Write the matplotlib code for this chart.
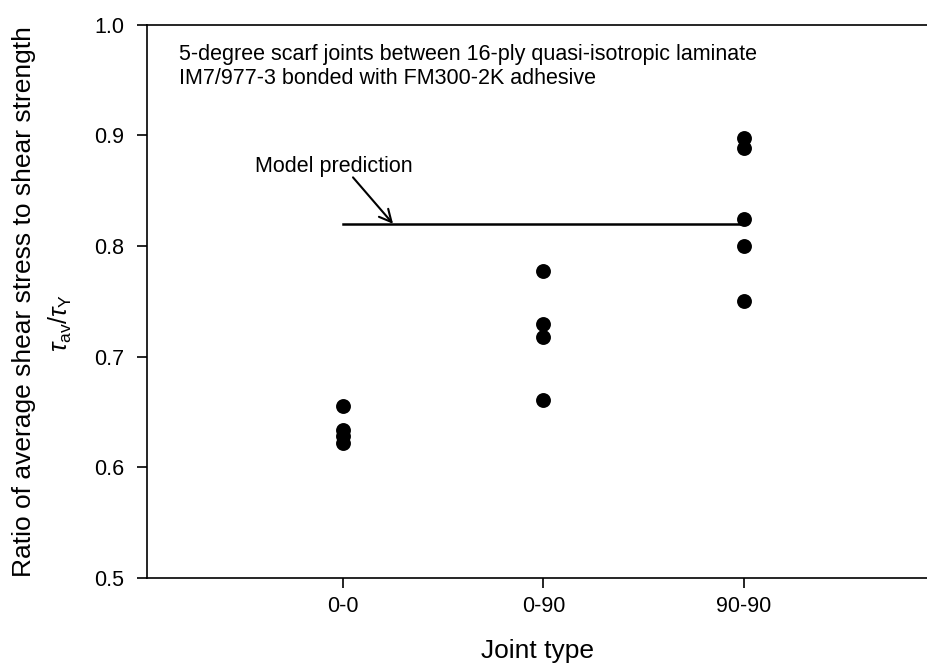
import matplotlib
matplotlib.use("Agg")
import matplotlib.pyplot as plt

plt.rcParams['font.family'] = ['Liberation Sans', 'DejaVu Sans']
plt.rcParams['mathtext.fontset'] = 'custom'
plt.rcParams['mathtext.rm'] = 'Liberation Sans'
plt.rcParams['mathtext.it'] = 'Liberation Sans:italic'

# Joint types and measured ratios tau_av / tau_Y
joint_types = ["0-0", "0-90", "90-90"]
ratio_00 = [0.655, 0.634, 0.628, 0.622]
ratio_090 = [0.777, 0.729, 0.718, 0.661]
ratio_9090 = [0.898, 0.889, 0.824, 0.800, 0.750]
model_prediction = 0.82

fig = plt.figure(figsize=(9.28, 6.68), dpi=100)
ax = fig.add_axes([0.158, 0.135, 0.842, 0.828])

groups = [ratio_00, ratio_090, ratio_9090]
for i, vals in enumerate(groups):
    xs = [i + 1] * len(vals)
    ax.scatter(xs, vals, s=115, color="black", zorder=3, linewidths=0)

# Model prediction line across the joint types
ax.plot([1, 3], [model_prediction, model_prediction], color="black", lw=1.8)
ax.text(0.56, 0.872, "Model prediction", fontsize=15.5, va="center", ha="left")
ax.annotate("", xy=(1.25, model_prediction), xytext=(1.05, 0.862),
            arrowprops=dict(arrowstyle="->", color="black", lw=1.5,
                            shrinkA=0, shrinkB=0, mutation_scale=22))

ax.text(0.042, 0.966,
        "5-degree scarf joints between 16-ply quasi-isotropic laminate\n"
        "IM7/977-3 bonded with FM300-2K adhesive",
        transform=ax.transAxes, fontsize=15.5, va="top", ha="left",
        linespacing=1.2)

ax.set_xlim(0.02, 3.92)
ax.set_ylim(0.5, 1.0)
ax.set_xticks([1, 2, 3])
ax.set_xticklabels(joint_types)
ax.set_yticks([0.5, 0.6, 0.7, 0.8, 0.9, 1.0])
ax.set_yticklabels(["0.5", "0.6", "0.7", "0.8", "0.9", "1.0"])
ax.tick_params(direction="out", length=7, width=1.2, labelsize=15.5)
ax.tick_params(axis="y", pad=9)
ax.tick_params(axis="x", pad=6)

for side in ["left", "bottom", "top"]:
    ax.spines[side].set_linewidth(1.2)
ax.spines["right"].set_visible(False)

ax.set_xlabel("Joint type", fontsize=19, labelpad=16)
ax.set_ylabel("Ratio of average shear stress to shear strength", fontsize=19)
ax.yaxis.set_label_coords(-0.141, 0.5)
ax.text(-0.110, 0.46, r"$\tau_{\mathrm{av}}/\tau_{\mathrm{Y}}$", transform=ax.transAxes,
        rotation=90, fontsize=18, ha="center", va="center")

fig.savefig("out.png", dpi=100)
